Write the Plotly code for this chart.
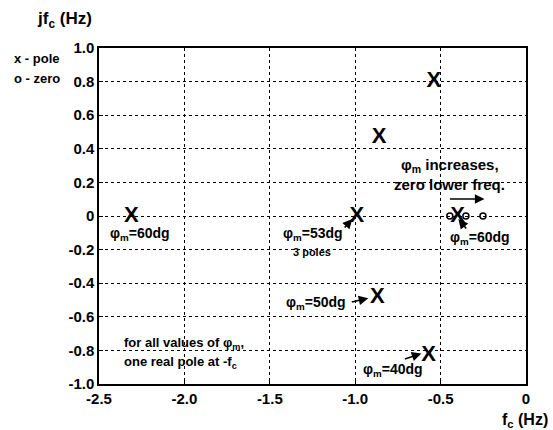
import plotly.graph_objects as go

# Data
pole_x = [-2.31, -0.99, -0.54, -0.86, -0.87, -0.57, -0.40]
pole_y = [0.0, 0.0, 0.80, 0.47, -0.484, -0.83, 0.0]
zero_x = [-0.446, -0.352, -0.252]
zero_y = [0.0, 0.0, 0.0]
x_ticks = [-2.5, -2.0, -1.5, -1.0, -0.5, 0]
x_ticklabels = ["-2.5", "-2.0", "-1.5", "-1.0", "-0.5", "0"]
y_ticks = [1.0, 0.8, 0.6, 0.4, 0.2, 0, -0.2, -0.4, -0.6, -0.8, -1.0]
y_ticklabels = ["1.0", "0.8", "0.6", "0.4", "0.2", "0", "-0.2", "-0.4", "-0.6", "-0.8", "-1.0"]

FONT = "Liberation Sans"

fig = go.Figure()
fig.add_trace(go.Scatter(
    x=zero_x, y=zero_y, mode="markers",
    marker=dict(symbol="circle-open", size=6, color="black", line=dict(width=1.5, color="black")),
    hoverinfo="skip", showlegend=False))
fig.add_trace(go.Scatter(
    x=pole_x, y=pole_y, mode="text", text=["X"] * len(pole_x),
    textposition="middle center",
    textfont=dict(family=FONT, size=22, color="black", weight="bold"),
    hoverinfo="skip", showlegend=False))

def px2x(px):
    return -2.5 + (px - 99) / 170.6

def py2y(py):
    return (216 - py) / 167.5

ann = []
def txt(px, py, s, size=14, xanchor="center", ref="data"):
    if ref == "data":
        ann.append(dict(x=px2x(px), y=py2y(py), xref="x", yref="y", text=s, showarrow=False,
                        xanchor=xanchor, yanchor="middle",
                        font=dict(family=FONT, size=size, color="black", weight="bold")))
    else:
        ann.append(dict(x=(px - 99) / 427, y=(384 - py) / 336, xref="paper", yref="paper", text=s,
                        showarrow=False, xanchor=xanchor, yanchor="middle",
                        font=dict(family=FONT, size=size, color="black", weight="bold")))

def arrow(tx, ty, hx, hy):
    ann.append(dict(x=px2x(hx), y=py2y(hy), xref="x", yref="y", ax=px2x(tx), ay=py2y(ty),
                    axref="x", ayref="y", text="", showarrow=True, arrowhead=2, arrowsize=1.2,
                    arrowwidth=1.6, arrowcolor="black"))

phi = "\u03c6<sub>m</sub>"
txt(140, 234, phi + "=60dg")
txt(313, 234, phi + "=53dg")
txt(312, 252, "3 poles", size=11)
arrow(343, 229, 352, 219)
txt(316, 303, phi + "=50dg")
arrow(350, 302, 368, 298)
txt(393, 370, phi + "=40dg")
arrow(403, 359, 421, 353)
txt(480, 238, phi + "=60dg")
arrow(467, 230, 458, 219)
txt(450, 166, phi + " increases,", size=15)
txt(449, 185, "zero lower freq.", size=15)
arrow(448, 199, 484, 199)
txt(122, 343, "for all values of " + phi + ",", size=13, xanchor="left")
txt(122, 362, "one real pole at -f<sub>c</sub>", size=13, xanchor="left")

txt(12, 58, "x - pole", size=13, xanchor="left", ref="paper")
txt(12, 78, "o - zero", size=13, xanchor="left", ref="paper")
txt(64, 20, "jf<sub>c</sub> (Hz)", size=17, ref="paper")
txt(525, 420, "f<sub>c</sub> (Hz)", size=16, ref="paper")

fig.update_layout(
    width=553, height=430,
    margin=dict(l=99, r=27, t=48, b=46),
    paper_bgcolor="white", plot_bgcolor="white",
    annotations=ann,
    font=dict(family=FONT, size=13, color="black"),
)
axis_common = dict(
    showgrid=True, gridcolor="black", griddash="dot", gridwidth=1,
    showline=True, linecolor="black", linewidth=1.5, mirror=True,
    ticks="inside", ticklen=4, tickcolor="black", zeroline=False,
    tickfont=dict(family=FONT, size=15, color="black", weight="bold"),
)
fig.update_xaxes(range=[-2.5, 0], tickvals=x_ticks, ticktext=x_ticklabels, **axis_common)
fig.update_yaxes(range=[-1.0, 1.0], tickvals=y_ticks, ticktext=y_ticklabels, **axis_common)

fig.write_html("out.html")
